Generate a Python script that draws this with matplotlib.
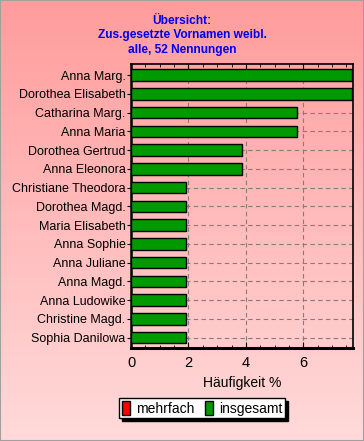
import numpy as np
import matplotlib
matplotlib.use('Agg')
import matplotlib.pyplot as plt
from matplotlib.patches import Patch, Rectangle
from matplotlib.ticker import MultipleLocator

plt.rcParams['font.family'] = ['Liberation Sans', 'DejaVu Sans']

names = ['Anna Marg.', 'Dorothea Elisabeth', 'Catharina Marg.', 'Anna Maria',
         'Dorothea Gertrud', 'Anna Eleonora', 'Christiane Theodora',
         'Dorothea Magd.', 'Maria Elisabeth', 'Anna Sophie', 'Anna Juliane',
         'Anna Magd.', 'Anna Ludowike', 'Christine Magd.', 'Sophia Danilowa']
# Häufigkeit % (insgesamt), mehrfach is empty in this view
insgesamt = [7.69, 7.69, 5.77, 5.77, 3.85, 3.85, 1.92, 1.92, 1.92, 1.92,
             1.92, 1.92, 1.92, 1.92, 1.92]
mehrfach = [0] * 15
title_lines = ['Übersicht:', 'Zus.gesetzte Vornamen weibl.', 'alle, 52 Nennungen']

fig = plt.figure(figsize=(3.64, 4.41), dpi=100)

# pink gradient background
bg = fig.add_axes([0, 0, 1, 1], zorder=-10)
top = np.array([255, 156, 156]) / 255
bot = np.array([255, 218, 218]) / 255
t = np.linspace(0, 1, 256)[:, None]
grad = top[None, :] * (1 - t) + bot[None, :] * t
bg.imshow(grad[:, None, :], aspect='auto', extent=[0, 1, 0, 1])
bg.set_axis_off()
fig.patches.append(Rectangle((0, 0), 1, 1, transform=fig.transFigure,
                             fill=False, edgecolor='#a0a0a0', lw=1.5))

ax = fig.add_axes([0.36, 0.211, 0.61, 0.644])
ax.set_facecolor('none')
y = np.arange(len(names))
ax.barh(y, mehrfach, height=0.62, color='#ff0000', edgecolor='black', lw=1, zorder=3)
ax.barh(y, insgesamt, height=0.62, color='#009900', edgecolor='black', lw=1, zorder=3)
ax.set_yticks(y)
ax.set_yticklabels(names, fontsize=9)
ax.set_ylim(len(names) - 0.45, -0.6)
ax.set_xlim(0, 7.73)
ax.xaxis.set_major_locator(MultipleLocator(2))
ax.xaxis.set_minor_locator(MultipleLocator(0.5))
ax.tick_params(axis='x', which='both', direction='in', top=True, labelsize=10.5, pad=6)
ax.tick_params(axis='x', which='major', length=4)
ax.tick_params(axis='x', which='minor', length=2)
ax.tick_params(axis='y', direction='out', length=3, pad=1)
ax.grid(True, axis='both', ls=(0, (4, 3)), color='#8a7a7a', lw=0.8, zorder=0)
for s in ax.spines.values():
    s.set_linewidth(1.2)
ax.spines['bottom'].set_linewidth(2.2)
ax.spines['left'].set_linewidth(1.8)
ax.set_xlabel('Häufigkeit %', fontsize=10, labelpad=4)

fig.text(0.5, 0.92, '\n'.join(title_lines), ha='center', va='center',
         color='#0000ee', fontweight='bold', fontsize=8.6, linespacing=1.3)

handles = [Patch(facecolor='#ff0000', edgecolor='black', label='mehrfach'),
           Patch(facecolor='#009900', edgecolor='black', label='insgesamt')]
fig.legend(handles=handles, loc='center', bbox_to_anchor=(0.555, 0.074), ncol=2,
           fontsize=10, frameon=True, fancybox=False, edgecolor='black',
           framealpha=1, borderpad=0.2, handlelength=0.6, handleheight=1.1,
           handletextpad=0.4, columnspacing=0.8,
           shadow={'facecolor': 'black', 'edgecolor': 'black', 'alpha': 1})

fig.savefig('out.png', dpi=100)
